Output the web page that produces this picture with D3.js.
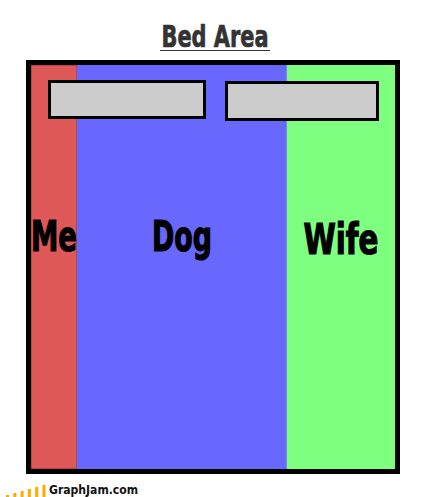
<!DOCTYPE html>
<html>
<style>
    body { margin: 0; background: #fff; }
    svg { display: block; }
    .title { font-family: "Liberation Sans Narrow", "DejaVu Sans Condensed", sans-serif; font-weight: bold; fill: #333; stroke: #333; stroke-width: 0.7px; }
    .side-label { font-family: "Liberation Sans Narrow", "DejaVu Sans Condensed", sans-serif; font-weight: bold; fill: #000; stroke: #000; stroke-width: 1.2px; }
    .logo { font-family: "DejaVu Sans", Verdana, sans-serif; font-weight: bold; fill: #111; }
</style>
<script src="https://d3js.org/d3.v7.min.js"></script>
<body>
<svg width="427" height="497"></svg>
<script>
    // who gets how much of the bed (percent of width)
    const sides = ["Me", "Dog", "Wife"];
    const shares = [12.6, 57.7, 29.7];

    const colors = {Me: "#df5858", Dog: "#6868ff", Wife: "#7fff7f"};
    const labelWidth = {Me: 46, Dog: 60, Wife: 75};

    const svg = d3.select("svg");

    // bed frame inner box
    const bed = {x0: 31, x1: 395, y0: 65, y1: 469};

    const x = d3.scaleLinear().domain([0, d3.sum(shares)]).range([bed.x0, bed.x1]);

    let acc = 0;
    const bands = sides.map((s, i) => {
        const b = {name: s, start: acc, end: acc + shares[i]};
        acc += shares[i];
        return b;
    });

    // title
    svg.append("text")
        .attr("class", "title")
        .attr("x", 215)
        .attr("y", 47)
        .attr("text-anchor", "middle")
        .attr("font-size", 31)
        .attr("textLength", 107)
        .attr("lengthAdjust", "spacingAndGlyphs")
        .text("Bed Area");
    svg.append("line")
        .attr("x1", 160).attr("x2", 270)
        .attr("y1", 50.5).attr("y2", 50.5)
        .attr("stroke", "#333").attr("stroke-width", 1.2);

    // bands
    svg.append("g").selectAll("rect")
        .data(bands)
        .join("rect")
        .attr("x", d => x(d.start))
        .attr("y", bed.y0)
        .attr("width", d => x(d.end) - x(d.start))
        .attr("height", bed.y1 - bed.y0)
        .attr("fill", d => colors[d.name])
        .attr("stroke", d => d.name === "Me" ? "#8a1f1f" : "none")
        .attr("stroke-width", 0.8);

    // pillows
    const pillows = svg.append("g")
        .attr("fill", "#cccccc")
        .attr("stroke", "#000")
        .attr("stroke-width", 3);
    pillows.append("rect").attr("x", 49.5).attr("y", 81.5).attr("width", 155).attr("height", 36);
    pillows.append("rect").attr("x", 226.5).attr("y", 82.5).attr("width", 151).attr("height", 37);

    // frame
    svg.append("rect")
        .attr("x", 28.5).attr("y", 62.5)
        .attr("width", 369).attr("height", 409)
        .attr("fill", "none")
        .attr("stroke", "#000")
        .attr("stroke-width", 5);

    // labels
    svg.append("g").selectAll("text")
        .data(bands)
        .join("text")
        .attr("class", "side-label")
        .attr("x", d => (x(d.start) + x(d.end)) / 2)
        .attr("y", (d, i) => i === 2 ? 254 : 251)
        .attr("text-anchor", "middle")
        .attr("font-size", 43)
        .attr("textLength", d => labelWidth[d.name])
        .attr("lengthAdjust", "spacingAndGlyphs")
        .text(d => d.name);

    // graphjam logo
    const logo = svg.append("g");
    logo.selectAll("rect")
        .data(d3.range(6))
        .join("rect")
        .attr("x", i => 6 + i * 7.3)
        .attr("y", i => 495 - i * 2)
        .attr("width", 3)
        .attr("height", i => 2 + i * 2 + 2)
        .attr("fill", "#ffaa00");
    logo.append("text")
        .attr("class", "logo")
        .attr("x", 49)
        .attr("y", 494)
        .attr("font-size", 11.5)
        .attr("textLength", 89)
        .attr("lengthAdjust", "spacingAndGlyphs")
        .text("GraphJam.com");
</script>
</body>
</html>
